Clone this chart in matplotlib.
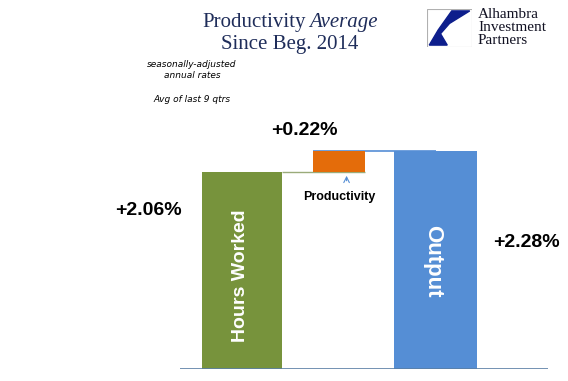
import matplotlib.pyplot as plt
from matplotlib.patches import Rectangle, Polygon

# data
categories = ["Hours Worked", "Productivity", "Output"]
hours_worked = 2.06
productivity = 0.22
output = hours_worked + productivity
labels = ["+2.06%", "+0.22%", "+2.28%"]

green = "#77933c"
orange = "#e46c0a"
blue = "#558ed5"
navy = "#1f2d5a"

W, H = 568, 381
fig = plt.figure(figsize=(W / 100, H / 100), dpi=100)

# chart axes, baseline at y=369px, 95.6 px per unit
ppu = 95.6
left_px, right_px, base_px = 180, 548, 369
ymax = 2.5
ax = fig.add_axes([left_px / W, (H - base_px) / H, (right_px - left_px) / W, ymax * ppu / H])
ax.set_xlim(-0.64, 3.16)
ax.set_ylim(0, ymax)
ax.axis("off")

x = [0, 1, 2]
ax.bar(x[0], hours_worked, width=0.83, color=green, zorder=2)
ax.bar(x[1], productivity, bottom=hours_worked, width=0.54, color=orange, zorder=3)
ax.bar(x[2], output, width=0.86, color=blue, zorder=2)
# connector lines
ax.hlines(hours_worked, x[0] + 0.415, x[1] + 0.27, color="#9aab7a", lw=1.0, zorder=1)
ax.hlines(output, x[1] - 0.27, x[2], color=blue, lw=1.2, zorder=2)
ax.axhline(0, color="#5b7fa6", lw=1.2, zorder=4)

# bar texts
ax.text(x[0] - 0.02, 0.98, categories[0], rotation=90, color="white",
        fontsize=14, fontweight="bold", ha="center", va="center", zorder=5,
        family="Liberation Sans")
ax.text(x[2] - 0.03, 1.13, categories[2], rotation=270, color="white",
        fontsize=16, fontweight="bold", ha="center", va="center", zorder=5,
        family="Liberation Sans")
ax.text(x[1], 1.8, categories[1], fontsize=9, fontweight="bold", ha="center", va="center",
        family="Liberation Sans")
ax.annotate("", xy=(x[1] + 0.08, hours_worked - 0.01), xytext=(x[1] + 0.08, hours_worked - 0.12),
            arrowprops=dict(arrowstyle="->", color=blue, lw=0.8))

# value labels
ax.text(-0.97, 1.66, labels[0], fontsize=14, fontweight="bold", ha="center", va="center",
        family="Liberation Sans", clip_on=False)
ax.text(x[1] - 0.36, 2.49, labels[1], fontsize=14, fontweight="bold", ha="center", va="center",
        family="Liberation Sans", clip_on=False)
ax.text(2.94, 1.32, labels[2], fontsize=14, fontweight="bold", ha="center", va="center",
        family="Liberation Sans", clip_on=False)

# title
fig.text(306 / W, 1 - 22 / H, "Productivity", fontsize=15, color=navy, family="Liberation Serif",
         ha="right", va="center")
fig.text(309 / W, 1 - 22 / H, "Average", fontsize=15, color=navy, family="Liberation Serif",
         style="italic", ha="left", va="center")
fig.text(290 / W, 1 - 45 / H, "Since Beg. 2014", fontsize=15, color=navy, family="Liberation Serif",
         ha="center", va="center")

# notes
fig.text(192 / W, 1 - 70 / H, "seasonally-adjusted\nannual rates", fontsize=6.5, style="italic",
         ha="center", va="center", linespacing=1.3, family="DejaVu Sans")
fig.text(192 / W, 1 - 100 / H, "Avg of last 9 qtrs", fontsize=6.5, style="italic",
         ha="center", va="center", family="DejaVu Sans")

# logo
lax = fig.add_axes([427 / W, 1 - 47 / H, 45 / W, 38 / H])
lax.set_xlim(0, 1)
lax.set_ylim(0, 1)
lax.axis("off")
lax.add_patch(Rectangle((0, 0), 1, 1, fill=False, edgecolor="#b0b0b0", lw=0.8))
lax.add_patch(Polygon([(0.55, 0.95), (0.95, 0.95), (0.5, 0.62), (0.3, 0.35), (0.45, 0.05),
                       (0.05, 0.05), (0.25, 0.45)], color="#0d1e8c"))
for i, word in enumerate(["Alhambra", "Investment", "Partners"]):
    fig.text(478 / W, 1 - (15 + 12.5 * i) / H, word, fontsize=11, color="#111122",
             family="Liberation Serif", ha="left", va="center")

fig.savefig("out.png", dpi=100)
